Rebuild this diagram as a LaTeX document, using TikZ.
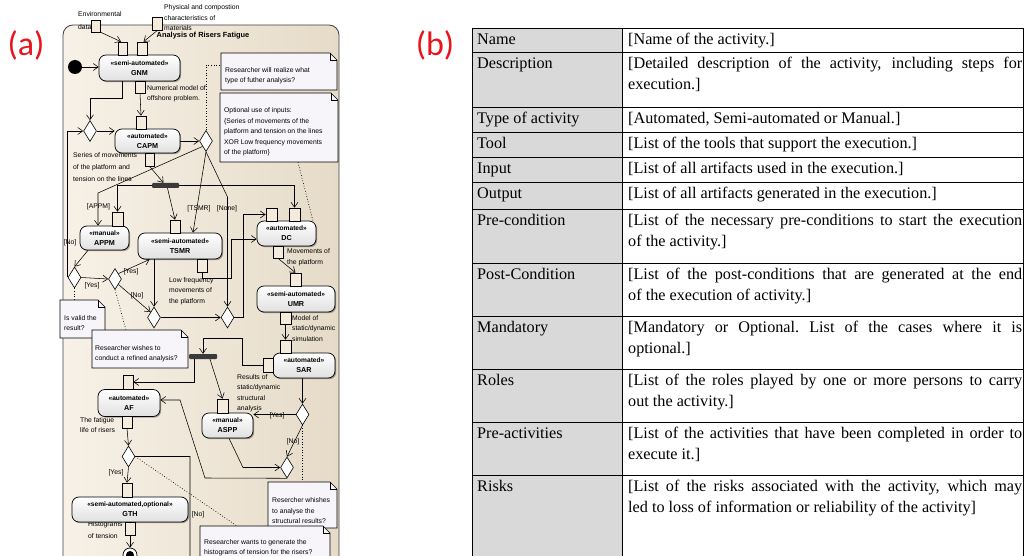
\documentclass[tikz,border=0pt]{standalone}
\usepackage{fontspec}
\setmainfont{Liberation Serif}
\newfontfamily\diagfont{Liberation Sans}
\newfontfamily\labfont{Carlito}
\usetikzlibrary{arrows.meta,shapes.geometric,shadows,fit}
\pgfdeclarelayer{bglayer}
\pgfdeclarelayer{edgelayer}
\pgfsetlayers{bglayer,edgelayer,main}

\definecolor{framel}{HTML}{F7F1E7}
\definecolor{framer}{HTML}{E6DBC8}
\definecolor{pinfill}{HTML}{F4EBDC}
\definecolor{notefill}{HTML}{F7F5FA}
\definecolor{barfill}{HTML}{3A3A3A}
\definecolor{colone}{HTML}{D9D9D9}
\definecolor{labred}{HTML}{E8141B}

\newcommand\sfs{\diagfont\fontsize{6.8}{10.5}\selectfont}
\newcommand\stt{\diagfont\bfseries\fontsize{6.6}{10}\selectfont}
\newcommand\nmf{\fontsize{7.2}{10}\selectfont}
\newcommand\tbf{\fontsize{16.2}{21}\selectfont\hyphenpenalty=10000 \exhyphenpenalty=10000 }

\tikzset{
 act/.style={rectangle, rounded corners=7pt, draw=black, line width=0.7pt, top color=white, bottom color=black!12,
   drop shadow={shadow xshift=1.2pt, shadow yshift=-1.2pt, opacity=0.35, fill=black}, align=center, inner sep=0pt, font=\stt},
 pinbox/.style={rectangle, draw=black, line width=0.6pt, fill=pinfill, inner sep=0pt, minimum width=10pt, minimum height=13pt},
 decision/.style={diamond, draw=black, line width=0.6pt, fill=white, inner sep=0pt, minimum width=13pt, minimum height=21pt},
 forkbar/.style={rectangle, fill=barfill, rounded corners=1pt, inner sep=0pt, minimum width=27pt, minimum height=5pt},
 flow/.style={draw=black, line width=0.55pt, -{Straight Barb[length=5pt,width=7pt]}},
 anchorline/.style={draw=black, line width=0.7pt, dotted},
 lbl/.style={font=\sfs, inner sep=0pt, align=left},
 guard/.style={font=\sfs, inner sep=0pt},
 notebg/.style={fill=notefill, draw=black, line width=0.6pt},
 tlab/.style={anchor=base west, inner sep=0pt, font=\tbf},
 ttext/.style={anchor=north west, inner sep=0pt, text width=394pt, align=justify, font=\tbf},
}

\newcommand\drawnote[5]{%
  \node[fit={(#2,#3) (#4,#5)}, inner sep=0pt] (#1) {};
  \path[notebg] (#2,#3) -- (#4-7,#3) -- (#4,#3+7) -- (#4,#5) -- (#2,#5) -- cycle;
  \draw[line width=0.6pt] (#4-7,#3) -- (#4-7,#3+7) -- (#4,#3+7);
}
% table row: #1 name, #2 top line y, #3 label, #4 text
\newcommand\tabrow[4]{%
  \node[tlab] (l#1) at (477,#2+16.5) {#3};
  \node[ttext] (t#1) at (628,#2+1.8) {\strut #4};
}

\begin{document}
\begin{tikzpicture}[x=1pt,y=-1pt]
\useasboundingbox (0,0) rectangle (1026,556);

% ---------- (a) frame ----------
\begin{pgfonlayer}{bglayer}
\draw[rounded corners=10pt, draw=black!75, line width=0.8pt, left color=framel, right color=framer] (63,25) rectangle (339,620);
\end{pgfonlayer}

\node[font=\labfont\fontsize{34}{36}\selectfont, text=labred, inner sep=0pt] (la) at (26,45) {(a)};
\node[font=\labfont\fontsize{34}{36}\selectfont, text=labred, inner sep=0pt] (lb) at (435,45) {(b)};

% object / pin labels
\node[lbl, anchor=west] (tenv) at (78,20.5) {Environmental\\[2pt]data};
\node[lbl, anchor=west] (tphys) at (164,18) {Physical and compostion\\characteristics of\\materials};
\node[font=\diagfont\bfseries\fontsize{7.4}{9}\selectfont, inner sep=0pt] (title) at (203,36) {Analysis of Risers Fatigue};
\node[lbl, anchor=west] (tnum) at (147,93.5) {Numerical model of\\offshore problem.};
\node[lbl, anchor=west] (tser) at (73,167) {Series of movements\\[1.5pt]of the platform and\\[1.5pt]tension on the lines};
\node[lbl, anchor=west] (tlow) at (169,291) {Low frequency\\movements of\\the platform};
\node[lbl, anchor=west] (tmov) at (287,257) {Movements of\\the platform};
\node[lbl, anchor=west] (tmod) at (292,328.5) {Model of\\static/dynamic\\simulation};
\node[lbl, anchor=west] (tres) at (237,393) {Results of\\static/dynamic\\structural\\analysis};
\node[lbl, anchor=west] (tfat) at (80,425) {The fatigue\\life of risers};
\node[lbl, anchor=west] (thist) at (88,530) {Histograms\\[2pt]of tension};

% activities
\node[act, minimum width=81pt, minimum height=26pt] (gnm) at (139.5,68) {«semi-automated»\\{\nmf GNM}};
\node[act, minimum width=65pt, minimum height=24pt] (capm) at (147.5,141) {«automated»\\{\nmf CAPM}};
\node[act, minimum width=49pt, minimum height=24pt] (appm) at (104.5,238) {«manual»\\{\nmf APPM}};
\node[act, minimum width=84pt, minimum height=26pt] (tsmr) at (180,246) {«semi-automated»\\{\nmf TSMR}};
\node[act, minimum width=59pt, minimum height=25pt] (dc) at (286.5,233.5) {«automated»\\{\nmf DC}};
\node[act, minimum width=78pt, minimum height=26pt] (umr) at (296,299) {«semi-automated»\\{\nmf UMR}};
\node[act, minimum width=62pt, minimum height=25pt] (sar) at (304,365.5) {«automated»\\{\nmf SAR}};
\node[act, minimum width=62pt, minimum height=27pt] (af) at (129,403) {«automated»\\{\nmf AF}};
\node[act, minimum width=51pt, minimum height=25pt] (aspp) at (227.5,425.5) {«manual»\\{\nmf ASPP}};
\node[act, minimum width=116pt, minimum height=25pt] (gth) at (130,509.5) {«semi-automated,optional»\\{\nmf GTH}};

% pins
\node[pinbox, minimum width=9pt] (gnmi1) at (122.5,48.5) {};
\node[pinbox] (gnmi2) at (142,48.5) {};
\node[pinbox, minimum height=12pt] (gnmo) at (140,87) {};
\node[pinbox] (capmi) at (141,122.5) {};
\node[pinbox, minimum width=9pt] (capmo) at (149.5,159.5) {};
\node[pinbox, minimum width=11pt, minimum height=14pt] (appmi) at (117.5,219) {};
\node[pinbox] (tsmri) at (175,226.5) {};
\node[pinbox] (tsmro) at (202,265.5) {};
\node[pinbox, minimum width=11pt] (dci1) at (271.5,214.5) {};
\node[pinbox, minimum width=11pt] (dci2) at (294.5,214.5) {};
\node[pinbox, minimum height=12pt] (dco) at (278,252) {};
\node[pinbox, minimum width=11pt] (umri) at (295.5,279.5) {};
\node[pinbox, minimum width=11pt, minimum height=12pt] (umro) at (285.5,318) {};
\node[pinbox, minimum width=11pt] (sari) at (285.5,346.5) {};
\node[pinbox, minimum height=14pt] (sarl) at (268,365) {};
\node[pinbox, minimum height=14pt] (afi) at (128,382) {};
\node[pinbox, minimum height=12pt] (afo) at (127,422) {};
\node[pinbox, minimum width=11pt, minimum height=14pt] (asppi) at (222.5,406) {};
\node[pinbox, minimum height=14pt] (gthi) at (127,490) {};
\node[pinbox] (gtho) at (130,528.5) {};
\node[pinbox, minimum width=9pt, minimum height=12pt] (envbox) at (96,26) {};
\node[pinbox] (physbox) at (157.5,23.5) {};

% decisions / merges
\node[decision] (dm1) at (90,131) {};
\node[decision] (dcapm) at (206,141) {};
\node[decision] (dval) at (74.5,277.5) {};
\node[decision] (dyes) at (115,279) {};
\node[decision] (dm2) at (154,317.5) {};
\node[decision] (dnone) at (227.5,317.5) {};
\node[decision] (dsar) at (302.5,414.5) {};
\node[decision] (dlow) at (287,467.5) {};
\node[decision] (daf) at (128.5,456.5) {};

% fork bars
\node[forkbar] (bar1) at (165.5,185.5) {};
\node[forkbar, minimum width=28pt] (bar2) at (203,356.5) {};

% initial / final
\node[circle, fill=black, minimum size=14pt, inner sep=0pt] (init) at (75,67) {};
\node[circle, draw=black, line width=0.7pt, fill=white, minimum size=14pt, inner sep=0pt] (final) at (130,555) {};
\fill (final.center) circle (4pt);

% notes
\drawnote{n1}{221}{53}{337}{90}
\node[lbl, anchor=west] (n1t) at (225,75.5) {Researcher will realize what\\type of futher analysis?};
\drawnote{n2}{220}{93}{338}{162}
\node[lbl, anchor=west] (n2t) at (224,132) {Optional use of inputs:\\\{Series of movements of the\\platform and tension on the lines\\XOR Low frequency movements\\of the platform\}};
\drawnote{n3}{60}{300}{105}{338}
\node[lbl, anchor=west] (n3t) at (64,323) {Is valid the\\result?};
\drawnote{n4}{92}{330}{188}{368}
\node[lbl, anchor=west] (n4t) at (95,353.5) {Researcher wishes to\\conduct a refined analysis?};
\drawnote{n5}{268}{482}{337}{528}
\node[lbl, anchor=west] (n5t) at (272,511) {Resercher whishes\\to analyse the\\structural results?};
\drawnote{n6}{200}{526}{330}{590}
\node[lbl, anchor=north west] (n6t) at (204,539) {Researcher wants to generate the\\histograms of tension for the risers?};

% guards
\node[guard] (g1) at (70,243) {[No]};
\node[guard] (g2) at (98.5,207) {[APPM]};
\node[guard] (g3) at (199,209) {[TSMR]};
\node[guard] (g4) at (227,209) {[None]};
\node[guard] (g5) at (131,272) {[Yes]};
\node[guard] (g6) at (92,286) {[Yes]};
\node[guard] (g7) at (137,296) {[No]};
\node[guard] (g8) at (277,416) {[Yes]};
\node[guard] (g9) at (293,442) {[No]};
\node[guard] (g10) at (116,473) {[Yes]};
\node[guard] (g11) at (198,515) {[No]};

% connectors
\begin{pgfonlayer}{edgelayer}
\draw[flow] (envbox.south east) -- ([xshift=-1.5pt]gnmi1.north);
\draw[flow] (physbox.south) -- ([xshift=1.5pt]gnmi2.north);
\draw[flow] (init.east) -- (init.east -| gnm.west);
\draw[flow] (gnmo.south) -- (capmi.north);
\draw[flow] ([xshift=-17.5pt]gnm.south) -- ++(0,17) -| (dm1.north);
\draw[flow] (dval.west) |- (dm1.west);
\draw[flow] (dm1.east) -- (dm1.east -| capm.west);
\draw[flow] (capm.east |- dcapm.west) -- (dcapm.west);
\draw[flow] (dcapm.south west) -- (98,193) -- (appm.north -| 98,0);
\draw[flow] (dcapm.south) -- (tsmr.north -| 193,0);
\draw[flow] (dcapm.south) -- (227.5,197) -- (dnone.north);
\draw[flow] (capmo.south) -- ([xshift=-2pt]bar1.north);
\draw[flow] (bar1.west) -| (appmi.north);
\draw[flow] ([xshift=2pt]bar1.south) -- (tsmri.north);
\draw[flow] (bar1.east) -| (dci2.north);
\draw[flow] (tsmro.south) -- (202,278) -- (231,278) -- (231,239) -- (dc.west |- 0,239);
\draw[flow] (dnone.east) -- (243,317.5) -- (243,214.5) -- (dci1.west);
\draw[flow] ([xshift=-16.5pt]appm.south) -- (dval.north);
\draw[flow] (dval.east) -- (dyes.west);
\draw[flow] (dyes.north east) -- ([xshift=12pt]tsmr.south west);
\draw[flow] (dyes.south east) -- (dm2.north west);
\draw[flow] (tsmr.south -| dm2.north) -- (dm2.north);
\draw[flow] (dm2.east) -- (dnone.west);
\draw[flow] (dco.south) -- (umri.north);
\draw[flow] (umro.south) -- (sari.north);
\draw[flow] (sarl.west) -- (242,365) -- (242,338) -- (203,338) -- (bar2.north);
\draw[flow] (194,359) -- (194,382) -- (afi.east);
\draw[flow] ([xshift=7pt]bar2.south) -- (asppi.north);
\draw[flow] (sar.south -| dsar.north) -- (dsar.north);
\draw[flow] (dsar.west) -- (dsar.west -| aspp.east);
\draw[flow] (dsar.south) -- (dlow.north);
\draw[flow] ([xshift=1.5pt]aspp.south) -- (243,467.5) -- (dlow.west);
\draw[flow] (dlow.south) -- (205,478) -- (180,400) -- (af.east |- 0,400);
\draw[flow] (afo.south) -- (daf.north);
\draw[flow] (daf.south) -- (gthi.north);
\draw[flow] (daf.east) -- (190,456.5) -- (190,578) -- (final);
\draw[flow] (gtho.south) -- (final.north);
\draw[anchorline] (dcapm.north) -- (206,65) -- (n1.west |- 0,65);
\draw[anchorline] (n2.south -| 298,0) -- (313,221);
\draw[anchorline] (dval.south) -- (dval.south |- n3.north);
\draw[anchorline] (dyes.south) -- (126,330);
\draw[anchorline] (dsar.south) -- (dsar.south |- n5.north);
\draw[anchorline] (daf.east) -- (237,526);
\end{pgfonlayer}

% ---------- (b) table ----------
\fill[colone] (472,28) rectangle (622,556);
\draw[line width=0.8pt] (472,556) -- (472,28) -- (1023,28) -- (1023,556);
\draw[line width=0.8pt] (622,28) -- (622,556);
\foreach \yy in {52,107,132,157,182,209,263,316,369,422,475} \draw[line width=0.8pt] (472,\yy) -- (1023,\yy);

\tabrow{1}{28}{Name}{[Name of the activity.]}
\tabrow{2}{52}{Description}{[Detailed description of the activity, including steps for\linebreak execution.]}
\tabrow{3}{107}{Type of activity}{[Automated, Semi-automated or Manual.]}
\tabrow{4}{132}{Tool}{[List of the tools that support the execution.]}
\tabrow{5}{157}{Input}{[List of all artifacts used in the execution.]}
\tabrow{6}{182}{Output}{[List of all artifacts generated in the execution.]}
\tabrow{7}{209}{Pre-condition}{[List of the necessary pre-conditions to start the execution\linebreak of the activity.]}
\tabrow{8}{263}{Post-Condition}{[List of the post-conditions that are generated at the end\linebreak of the execution of activity.]}
\tabrow{9}{316}{Mandatory}{[Mandatory or Optional.\ List of the cases where it is\linebreak optional.]}
\tabrow{10}{369}{Roles}{[List of the roles played by one or more persons to carry\linebreak out the activity.]}
\tabrow{11}{422}{Pre-activities}{[List of the activities that have been completed in order to\linebreak execute it.]}
\tabrow{12}{475}{Risks}{[List of the risks associated with the activity, which may\linebreak led to loss of information or reliability of the activity]}
\end{tikzpicture}
\end{document}
